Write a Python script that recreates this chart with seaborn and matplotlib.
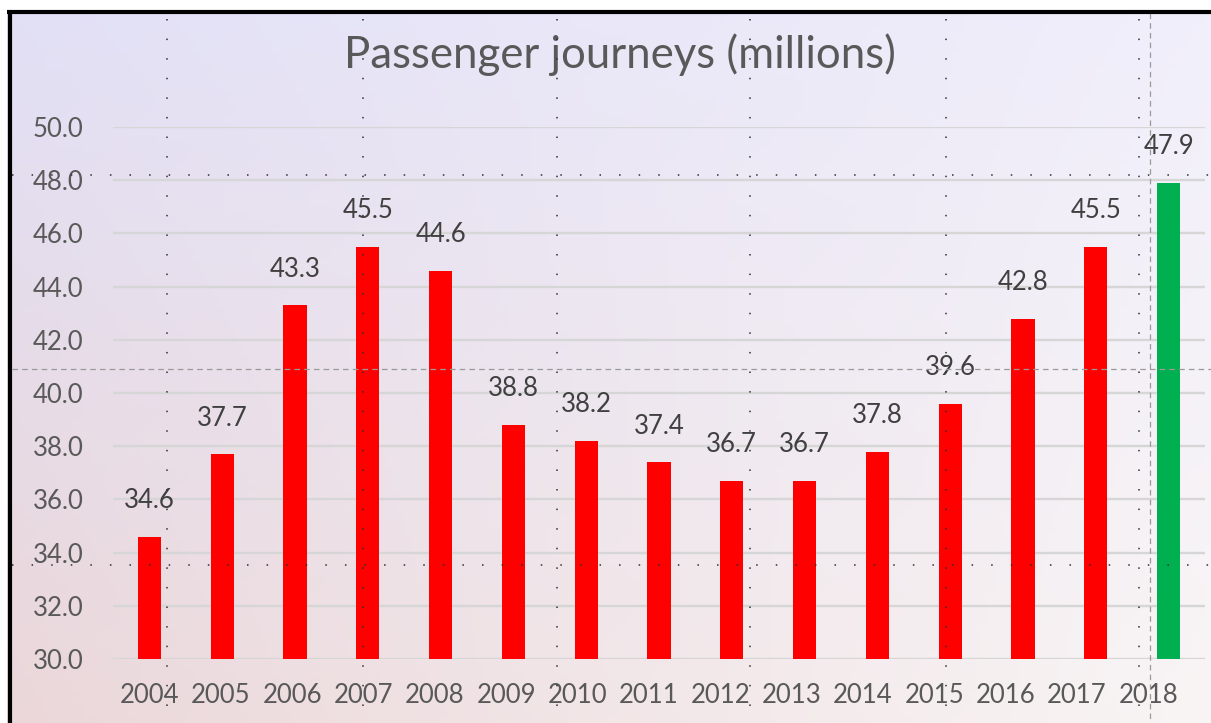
import numpy as np
import pandas as pd
import seaborn as sns
import matplotlib.pyplot as plt

# ---------------- data ----------------
years = ["2004", "2005", "2006", "2007", "2008", "2009", "2010", "2011",
         "2012", "2013", "2014", "2015", "2016", "2017", "2018"]
journeys = [34.6, 37.7, 43.3, 45.5, 44.6, 38.8, 38.2, 37.4,
            36.7, 36.7, 37.8, 39.6, 42.8, 45.5, 47.9]
bar_colors = ["#ff0000"] * 14 + ["#00b050"]
y_ticks = [30, 32, 34, 36, 38, 40, 42, 44, 46, 48, 50]
title = "Passenger journeys (millions)"

df = pd.DataFrame({"year": years, "journeys": journeys})

sns.set_style("white")
plt.rcParams["font.family"] = ["Lato", "DejaVu Sans"]
plt.rcParams["lines.scale_dashes"] = False

W, H = 1211, 723
fig = plt.figure(figsize=(W / 100, H / 100), dpi=100, facecolor="white")

# ---------------- gradient background ----------------
bg = fig.add_axes([0, 0, 1, 1], zorder=-5)
tl = np.array([226, 224, 246]) / 255
tr = np.array([241, 239, 251]) / 255
bl = np.array([235, 215, 217]) / 255
br = np.array([249, 245, 245]) / 255
u = np.linspace(0, 1, 200)[None, :, None]
v = np.linspace(0, 1, 120)[:, None, None]
grad = (1 - v) * ((1 - u) * tl + u * tr) + v * ((1 - u) * bl + u * br)
bg.imshow(grad, extent=[7, W, H, 10], aspect="auto")
bg.set_xlim(0, W)
bg.set_ylim(H, 0)
bg.axis("off")

# ---------------- bars ----------------
ax = fig.add_axes([113 / W, 64 / H, 1092 / W, 532 / H])
ax.set_facecolor("none")
sns.barplot(data=df, x="year", y="journeys", hue="year", palette=bar_colors,
            legend=False, width=0.316, saturation=1, linewidth=0,
            ax=ax, zorder=3)
ax.set_xlim(-0.5, 14.5)
ax.set_ylim(30, 50)
ax.set_yticks(y_ticks)
ax.set_yticklabels([f"{t:.1f}" for t in y_ticks])
ax.set_xticks(np.arange(len(years)) * 0.98)
ax.set_xticklabels(years)
ax.yaxis.grid(True, color="#d6d6d6", linewidth=1.7, zorder=0)
ax.set_axisbelow(True)
for s in ax.spines.values():
    s.set_visible(False)
ax.tick_params(axis="y", length=0, pad=21, labelsize=18.5, labelcolor="#595959")
ax.tick_params(axis="x", length=0, pad=17, labelsize=18.5, labelcolor="#595959")
ax.set_xlabel("")
ax.set_ylabel("")

for i, val in enumerate(journeys):
    ax.annotate(f"{val:.1f}", (i, val), xytext=(0, 26), textcoords="offset points",
                ha="center", va="center", fontsize=18.5, color="#404040",
                annotation_clip=False)

fig.text(620 / W, 1 - 55 / H, title, ha="center", va="center",
         fontsize=31.5, color="#595959")

# ---------------- guides and frame ----------------
ov = fig.add_axes([0, 0, 1, 1], zorder=10)
ov.set_facecolor("none")
ov.set_xlim(0, W)
ov.set_ylim(H, 0)
ov.axis("off")
for gx in [167, 363, 557, 750, 946, 1139]:
    ov.plot([gx, gx], [19, H], color="#303030", lw=1.1, ls=(0, (1.1, 13)))
for gy in [175, 565]:
    ov.plot([12, W], [gy, gy], color="#303030", lw=1.1, ls=(0, (1.1, 13)))
ov.plot([1150, 1150], [13, H], color="#9a9a9a", lw=0.9, ls=(0, (4, 3)))
ov.plot([12, W], [369, 369], color="#9a9a9a", lw=0.9, ls=(0, (4, 3)))
ov.plot([7, W], [11.5, 11.5], color="black", lw=3, solid_capstyle="butt")
ov.plot([9.5, 9.5], [10, H], color="black", lw=3, solid_capstyle="butt")

fig.savefig("out.png", dpi=100)
